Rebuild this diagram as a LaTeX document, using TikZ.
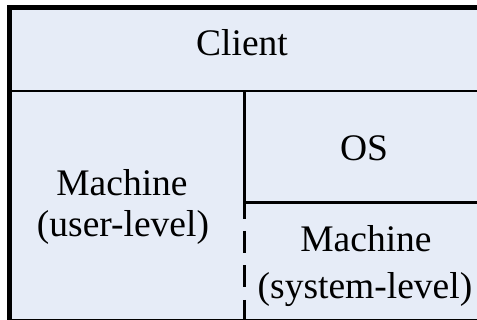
\documentclass[tikz,border=0pt]{standalone}
\usepackage{fontspec}
\setmainfont{Liberation Serif}
\definecolor{panel}{RGB}{230,236,247}
\begin{document}
\begin{tikzpicture}[x=1pt,y=-1pt,
  txt/.style={anchor=base,inner sep=0pt,font=\fontsize{37.5}{42}\selectfont},
  divider/.style={line width=2.6pt,black}]
\useasboundingbox (0,0) rectangle (477,320);
% outer frame, running past the right and bottom edges
\begin{scope}
  \clip (0,0) rectangle (477,320);
  \draw[line width=5pt,fill=panel] (9.5,7.5) rectangle (482,321.5);
  % inner dividers
  \draw[divider] (12,91) -- (480,91);
  \draw[divider] (244.7,91) -- (244.7,219);
  \draw[divider] (244.7,202.3) -- (480,202.3);
  \draw[divider,dash pattern=on 22pt off 12.5pt] (244.7,231) -- (244.7,325);
\end{scope}
% labels
\node[txt] (client) at (242,56) {Client};
\node[txt] (os) at (364,160.5) {OS};
\node[txt] (userm) at (122,196) {Machine};
\node[txt] (userl) at (123,236.5) {(user-level)};
\node[txt] (sysm) at (366,251.5) {Machine};
\node[txt] (sysl) at (365,298.5) {(system-level)};
\end{tikzpicture}
\end{document}
